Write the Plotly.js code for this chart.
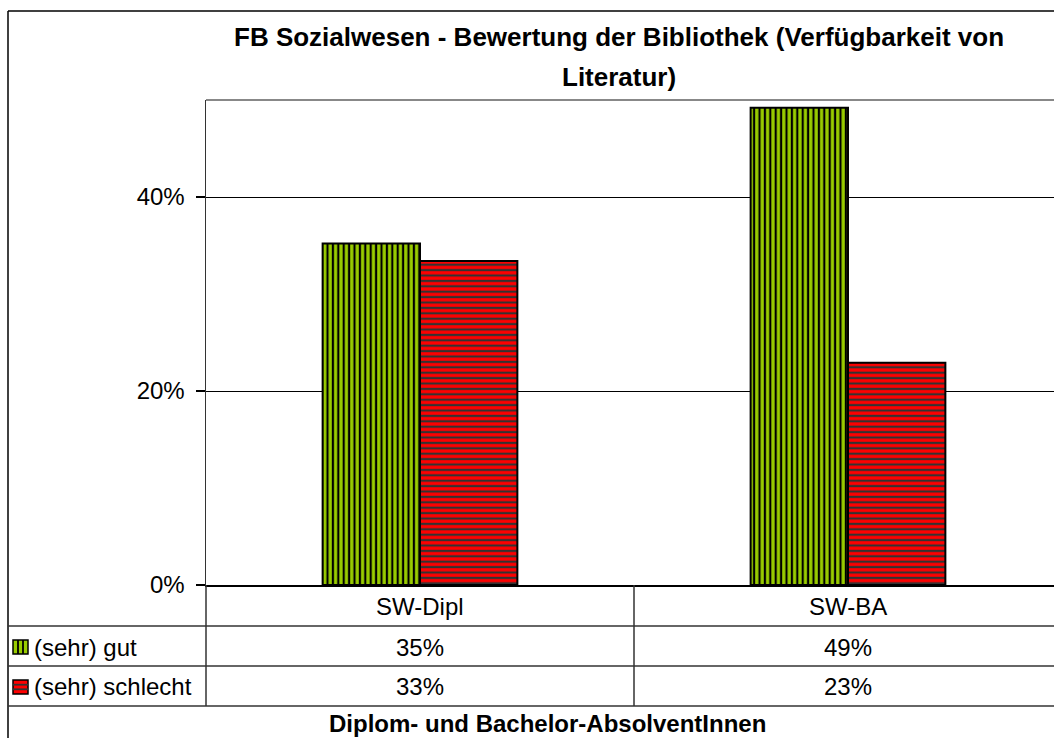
<!DOCTYPE html>
<html>
<head>
<meta charset="utf-8">
<script src="https://cdn.plot.ly/plotly-3.0.1.min.js"></script>
<style>html,body{margin:0;padding:0;background:#fff;}#chart{width:1054px;height:738px;}</style>
</head>
<body>
<div id="chart"></div>
<script>
// ---- data ----
var categories = ['SW-Dipl', 'SW-BA'];
var seriesNames = ['(sehr) gut', '(sehr) schlecht'];
var gutValues = [0.352, 0.492];
var schlechtValues = [0.334, 0.229];
var yTickVals = [0, 0.2, 0.4];
var chartTitleLines = ['FB Sozialwesen - Bewertung der Bibliothek (Verfügbarkeit von', 'Literatur)'];
var xTitle = 'Diplom- und Bachelor-AbsolventInnen';

// ---- layout helpers (pixel -> paper) ----
var W = 1054, H = 738;
function px(x) { return x / W; }
function py(y) { return 1 - y / H; }
var FONT = 'Liberation Sans, Arial, sans-serif';
var GREEN = '#99cc00', RED = '#ff0000';
var FS = 24;

var traces = [
  {
    type: 'bar', x: categories, y: gutValues, name: seriesNames[0],
    marker: {
      color: GREEN,
      line: {color: '#000', width: 2},
      pattern: {shape: '|', bgcolor: GREEN, fgcolor: '#000', size: 5.4, solidity: 0.4}
    },
    hoverinfo: 'skip'
  },
  {
    type: 'bar', x: categories, y: schlechtValues, name: seriesNames[1],
    marker: {
      color: RED,
      line: {color: '#000', width: 2},
      pattern: {shape: '-', bgcolor: RED, fgcolor: '#333333', size: 5.4, solidity: 0.4}
    },
    hoverinfo: 'skip'
  }
];

function pct(v) { return Math.round(v * 100) + '%'; }

var annotations = [];
// title
annotations.push({text: '<b>' + chartTitleLines[0] + '</b>', xref: 'paper', yref: 'paper', x: px(619), y: py(37), xanchor: 'center', yanchor: 'middle', showarrow: false, font: {family: FONT, size: 26, color: '#000'}});
annotations.push({text: '<b>' + chartTitleLines[1] + '</b>', xref: 'paper', yref: 'paper', x: px(619), y: py(77), xanchor: 'center', yanchor: 'middle', showarrow: false, font: {family: FONT, size: 26, color: '#000'}});
// x title
annotations.push({text: '<b>' + xTitle + '</b>', xref: 'paper', yref: 'paper', x: px(547), y: 0, xanchor: 'center', yanchor: 'bottom', borderpad: 0, showarrow: false, font: {family: FONT, size: FS, color: '#000'}});
// data table
var rowY = [606, 647, 686];
categories.forEach(function (c, i) {
  annotations.push({text: c, xref: 'x', yref: 'paper', x: c, y: py(rowY[0]), xanchor: 'center', yanchor: 'middle', showarrow: false, font: {family: FONT, size: FS, color: '#000'}});
  annotations.push({text: pct(gutValues[i]), xref: 'x', yref: 'paper', x: c, y: py(rowY[1]), xanchor: 'center', yanchor: 'middle', showarrow: false, font: {family: FONT, size: FS, color: '#000'}});
  annotations.push({text: pct(schlechtValues[i]), xref: 'x', yref: 'paper', x: c, y: py(rowY[2]), xanchor: 'center', yanchor: 'middle', showarrow: false, font: {family: FONT, size: FS, color: '#000'}});
});
seriesNames.forEach(function (n, i) {
  annotations.push({text: n, xref: 'paper', yref: 'paper', x: px(32), y: py(rowY[i + 1]), xanchor: 'left', yanchor: 'middle', showarrow: false, font: {family: FONT, size: FS, color: '#000'}});
});

var LINE = '#333333';
var shapes = [];
function line(x0, y0, x1, y1, color, width) {
  shapes.push({type: 'line', xref: 'paper', yref: 'paper', x0: px(x0), y0: py(y0), x1: px(x1), y1: py(y1), line: {color: color, width: width}});
}
// outer frame
line(8, 11, 8, 740, '#000', 1.5);
line(8, 11, 1056, 11, '#000', 1.5);
// plot area top border
line(206, 100, 1056, 100, '#888888', 2);
// table lines
line(8, 626, 1056, 626, LINE, 1.5);
line(8, 666, 1056, 666, LINE, 1.5);
line(8, 706, 1056, 706, LINE, 1.5);
line(206, 585, 206, 706, LINE, 1.5);
line(634, 585, 634, 706, LINE, 1.5);
// legend keys
function key(y0, fill, stripeColor, vertical) {
  shapes.push({type: 'rect', xref: 'paper', yref: 'paper', x0: px(13), y0: py(y0), x1: px(28), y1: py(y0 + 14), fillcolor: fill, line: {color: '#000', width: 1.5}});
  if (vertical) {
    line(18, y0, 18, y0 + 14, stripeColor, 1.8);
    line(23, y0, 23, y0 + 14, stripeColor, 1.8);
  } else {
    line(13, y0 + 4.7, 28, y0 + 4.7, stripeColor, 1.8);
    line(13, y0 + 9.3, 28, y0 + 9.3, stripeColor, 1.8);
  }
}
key(640, GREEN, '#000', true);
key(680, RED, '#333333', false);

var layout = {
  width: W, height: H,
  margin: {l: 0, r: 0, t: 0, b: 0, pad: 0},
  paper_bgcolor: '#fff', plot_bgcolor: '#fff',
  showlegend: false,
  barmode: 'group',
  bargap: 0.545, bargroupgap: 0,
  font: {family: FONT, size: FS, color: '#000'},
  xaxis: {
    type: 'category', domain: [px(206), 1], range: [-0.5, -0.5 + 848 / 428],
    showticklabels: false, ticks: '', showgrid: false, zeroline: false,
    showline: true, linecolor: '#000', linewidth: 1.5, fixedrange: true
  },
  yaxis: {
    domain: [py(585), py(100)], range: [0, 0.5],
    tickvals: yTickVals, tickformat: '.0%',
    ticks: 'outside', ticklen: 9, tickcolor: '#000', tickwidth: 1.5,
    ticklabelstandoff: 6,
    tickfont: {family: FONT, size: FS, color: '#000'},
    showgrid: true, gridcolor: '#000', gridwidth: 1,
    zeroline: false, showline: true, linecolor: LINE, linewidth: 1.5, fixedrange: true
  },
  annotations: annotations,
  shapes: shapes
};

Plotly.newPlot('chart', traces, layout, {displayModeBar: false, staticPlot: true});
</script>
</body>
</html>
